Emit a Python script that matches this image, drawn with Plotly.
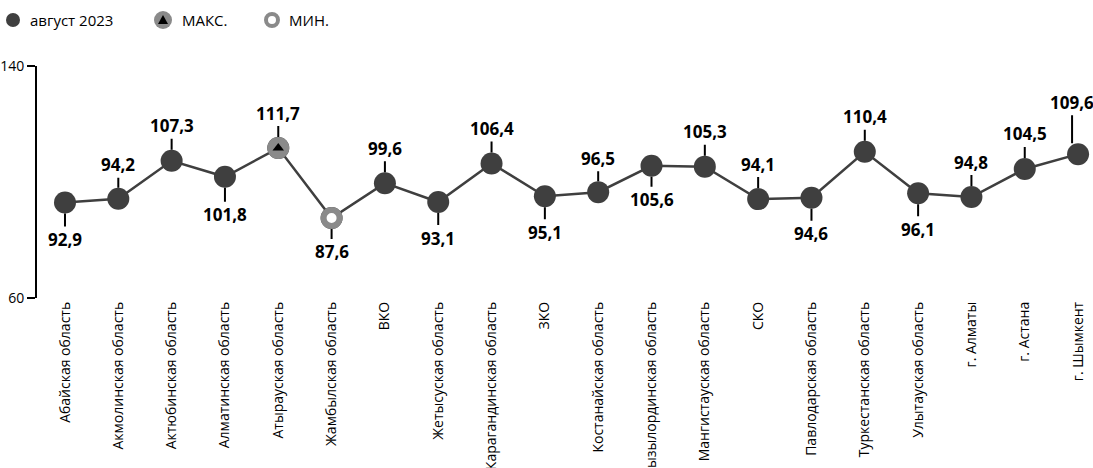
import plotly.graph_objects as go

# Регионы и значения индекса за август 2023
regions = [
    "Абайская область", "Акмолинская область", "Актюбинская область",
    "Алматинская область", "Атырауская область", "Жамбылская область",
    "ВКО", "Жетысуская область", "Карагандинская область", "ЗКО",
    "Костанайская область", "Кызылординская область", "Мангистауская область",
    "СКО", "Павлодарская область", "Туркестанская область",
    "Улытауская область", "г. Алматы", "г. Астана", "г. Шымкент",
]
values = [92.9, 94.2, 107.3, 101.8, 111.7, 87.6, 99.6, 93.1, 106.4, 95.1,
          96.5, 105.6, 105.3, 94.1, 94.6, 110.4, 96.1, 94.8, 104.5, 109.6]
y_ticks = [60, 140]
series_name = "август 2023"

# Смещения подписей значений (пиксели, минус — над точкой)
label_offsets = [37, -34, -35, 38, -35, 34, -35, 36, -35, 36,
                 -34, 34, -35, -35, 36, -35, 36, -35, -35, -52]

DARK = "#3f3f3f"
GREY = "#8a8a8a"
FONT = "Open Sans, Lato, sans-serif"

xs = list(range(len(regions)))
i_max = max(xs, key=lambda i: values[i])
i_min = min(xs, key=lambda i: values[i])

def fmt(v):
    return f"{v:.1f}".replace(".", ",")

fig = go.Figure()

fig.add_trace(go.Scatter(
    x=xs, y=values, mode="lines+markers", name=series_name,
    line=dict(color=DARK, width=2.5),
    marker=dict(size=22, color=DARK),
    showlegend=False, hoverinfo="skip",
))
# максимум: серый круг с чёрным треугольником
fig.add_trace(go.Scatter(
    x=[xs[i_max]], y=[values[i_max]], mode="markers",
    marker=dict(size=22, color=GREY), showlegend=False, hoverinfo="skip",
))
fig.add_trace(go.Scatter(
    x=[xs[i_max]], y=[values[i_max]], mode="markers",
    marker=dict(size=10, color="black", symbol="triangle-up"),
    showlegend=False, hoverinfo="skip",
))
# минимум: серое кольцо
fig.add_trace(go.Scatter(
    x=[xs[i_min]], y=[values[i_min]], mode="markers",
    marker=dict(size=16, color="white", line=dict(color=GREY, width=6)),
    showlegend=False, hoverinfo="skip",
))

last = len(xs) - 1
for x, v, off in zip(xs, values, label_offsets):
    fig.add_annotation(
        x=x, y=v, text=f"<b>{fmt(v)}</b>", showarrow=True,
        arrowhead=0, arrowwidth=2, arrowcolor="black",
        ax=0, ay=off, standoff=11,
        xshift=-6 if x == last else 0,
        font=dict(family=FONT, size=17, color="black"),
    )

# Легенда
L, T, W, H = 37, 66, 1056, 232
def px_x(p):
    return (p - L) / W
def px_y(p):
    return (T + H - p) / H

leg_y = px_y(20)
fig.add_shape(type="circle", xref="paper", yref="paper",
              xsizemode="pixel", ysizemode="pixel",
              xanchor=px_x(13), yanchor=leg_y, x0=-7, x1=7, y0=-7, y1=7,
              fillcolor=DARK, line=dict(width=0))
fig.add_shape(type="circle", xref="paper", yref="paper",
              xsizemode="pixel", ysizemode="pixel",
              xanchor=px_x(163), yanchor=leg_y, x0=-9, x1=9, y0=-9, y1=9,
              fillcolor=GREY, line=dict(width=0))
fig.add_shape(type="path", xref="paper", yref="paper",
              xsizemode="pixel", ysizemode="pixel",
              xanchor=px_x(163), yanchor=leg_y,
              path="M -5,-4 L 5,-4 L 0,5 Z",
              fillcolor="black", line=dict(width=0))
fig.add_shape(type="circle", xref="paper", yref="paper",
              xsizemode="pixel", ysizemode="pixel",
              xanchor=px_x(272), yanchor=leg_y, x0=-6, x1=6, y0=-6, y1=6,
              fillcolor="white", line=dict(color=GREY, width=4))
for px, txt in [(28, series_name), (180, "МАКС."), (287, "МИН.")]:
    fig.add_annotation(x=px_x(px), y=leg_y, xref="paper", yref="paper",
                       text=txt, showarrow=False, xanchor="left",
                       yanchor="middle",
                       font=dict(family=FONT, size=15, color="black"))

fig.update_layout(
    width=1093, height=468,
    margin=dict(l=L, r=0, t=T, b=468 - T - H, autoexpand=False),
    paper_bgcolor="white", plot_bgcolor="white",
    font=dict(family=FONT, size=14, color="black"),
    showlegend=False,
)
fig.update_xaxes(
    range=[-0.525, 19.28], tickmode="array", tickvals=xs, ticktext=regions,
    tickangle=-90, showgrid=False, zeroline=False, showline=False,
    ticks="", tickfont=dict(size=14), automargin=False,
)
fig.update_yaxes(
    range=[60, 140], tickmode="array", tickvals=y_ticks,
    showgrid=False, zeroline=False, showline=True, linecolor="black",
    linewidth=2, ticks="outside", ticklen=8, tickwidth=2, tickcolor="black",
    tickfont=dict(size=14), automargin=False,
)

fig.write_html("out.html")
